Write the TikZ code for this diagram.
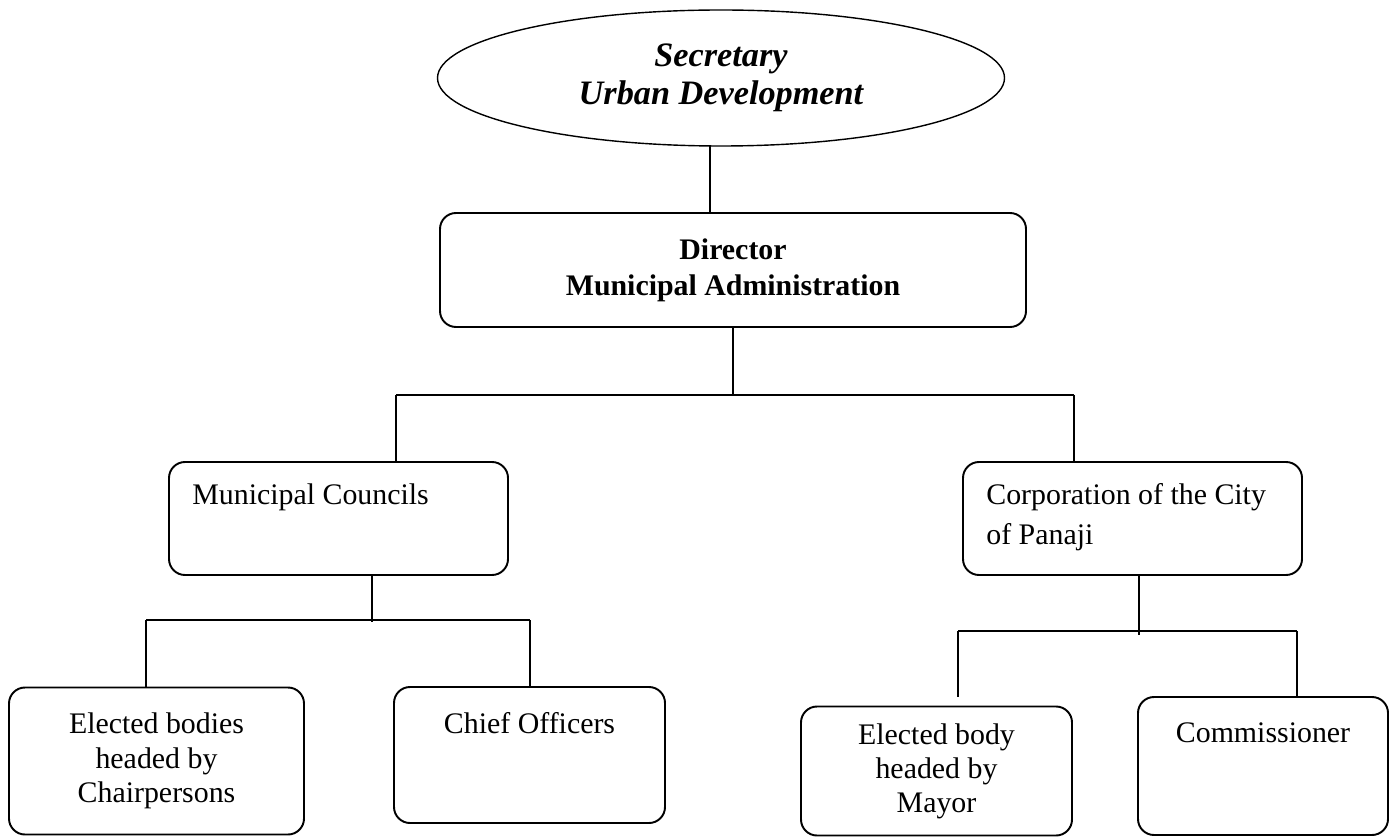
\documentclass[tikz,border=0pt]{standalone}
\usepackage{fontspec}
\setmainfont{Liberation Serif}
\usetikzlibrary{shapes.geometric}

\begin{document}
\begin{tikzpicture}[x=0.02cm,y=-0.02cm,font=\fontsize{17}{20}\selectfont]
	% Styles
	\tikzstyle{liaison}=[-,line width=0.8pt]
	\tikzstyle{ovale}=[ellipse,draw,line width=0.8pt,inner sep=0pt]
	\tikzstyle{boite}=[draw,rounded corners=0.32cm,line width=1.1pt,inner sep=0pt]
	\tikzstyle{texte}=[inner sep=0pt]
	% Dimensions
	\def\Pix{0.02cm}
	% Cadre
	\useasboundingbox (0,0) rectangle (1395,837);
	% Noeuds
	\node[ovale,minimum width={567*\Pix},minimum height={136*\Pix},align=center,font=\fontsize{19.5}{21.6}\selectfont\bfseries\itshape] (Sec) at (721,78) {Secretary\\Urban Development};
	\node[boite,minimum width={586*\Pix},minimum height={114*\Pix},align=center,font=\fontsize{17}{20.5}\selectfont\bfseries] (Dir) at (733,270) {Director\\Municipal Administration};
	%
	\node[boite,minimum width={339*\Pix},minimum height={113*\Pix}] (MC) at (338.5,518.5) {};
	\node[texte,anchor=west] (tMC) at (192,497) {Municipal Councils};
	\node[boite,minimum width={339*\Pix},minimum height={113*\Pix}] (Corp) at (1132.5,518.5) {};
	\node[texte,anchor=west,align=left,font=\fontsize{17}{22.8}\selectfont] (tCorp) at (986,517) {Corporation of the City\\of Panaji};
	%
	\node[boite,minimum width={295*\Pix},minimum height={147*\Pix},align=center,font=\fontsize{17}{19.6}\selectfont] (EB) at (156.5,761) {Elected bodies\\headed by\\Chairpersons};
	\node[boite,minimum width={271*\Pix},minimum height={136*\Pix}] (CO) at (529.5,755) {};
	\node[texte] (tCO) at (529.5,723) {Chief Officers};
	\node[boite,minimum width={271*\Pix},minimum height={129*\Pix},align=center,font=\fontsize{17}{19.4}\selectfont] (EBM) at (936.5,771) {Elected body\\headed by\\Mayor};
	\node[boite,minimum width={250*\Pix},minimum height={138*\Pix}] (Comm) at (1263,766) {};
	\node[texte] (tComm) at (1263,733) {Commissioner};
	% Points de jonction
	\coordinate (aSec) at (710,146);
	\coordinate (jDir) at (733,395);
	\coordinate (jG) at (396,395);
	\coordinate (jD) at (1074,395);
	\coordinate (jMC) at (372,622);
	\coordinate (jEB) at (146,620);
	\coordinate (jCO) at (530,620);
	\coordinate (jCorp) at (1139,635);
	\coordinate (jEBM) at (958,631);
	\coordinate (jComm) at (1297,631);
	\coordinate (fEBM) at (958,697);
	% Liaisons
	\draw[liaison] (aSec)--(Dir.north -| aSec);
	\draw[liaison] (Dir.south)--(jDir);
	\draw[liaison] (jG)--(jD);
	\draw[liaison] (jG)--(MC.north -| jG);
	\draw[liaison] (jD)--(Corp.north -| jD);
	\draw[liaison] (MC.south -| jMC)--(jMC);
	\draw[liaison] (jEB)--(jCO);
	\draw[liaison] (jEB)--(EB.north -| jEB);
	\draw[liaison] (jCO)--(CO.north -| jCO);
	\draw[liaison] (Corp.south -| jCorp)--(jCorp);
	\draw[liaison] (jEBM)--(jComm);
	\draw[liaison] (jEBM)--(fEBM);
	\draw[liaison] (jComm)--(Comm.north -| jComm);
\end{tikzpicture}
\end{document}
